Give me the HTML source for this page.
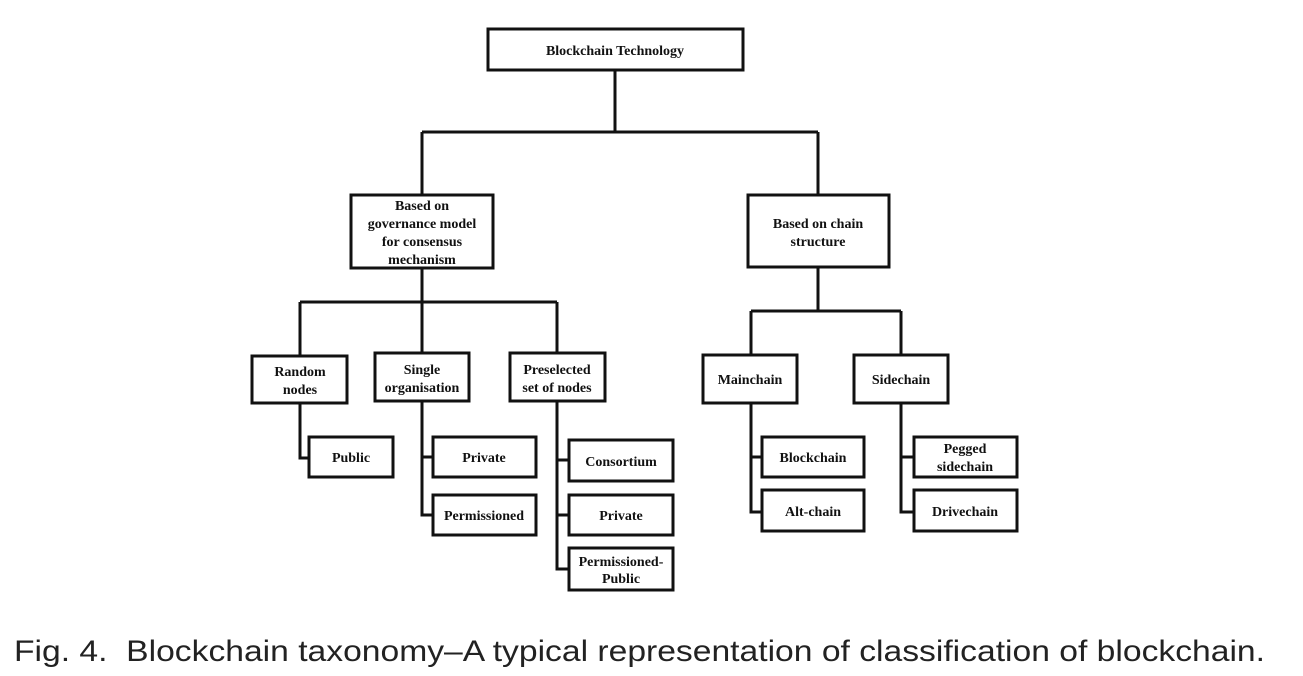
<!DOCTYPE html>
<html><head><meta charset="utf-8"><style>
html,body{margin:0;padding:0;background:#fff;}
svg{display:block;}
.b{font-family:"Liberation Serif",serif;font-weight:bold;font-size:14px;fill:#111;text-anchor:middle;}
</style></head><body>
<svg width="1303" height="676" viewBox="0 0 1303 676" xmlns="http://www.w3.org/2000/svg">
<g fill="none" stroke="#111" stroke-width="3">
<path d="M615 70V132M422 132H818M422 132V195M818 132V195"/>
<path d="M422 268V302M300 302H557M300 302V356M422 302V353M557 302V353"/>
<path d="M818 267V311M751 311H901M751 311V355M901 311V355"/>
<path d="M300 403V458H309"/>
<path d="M422 401V515H433M422 457H433"/>
<path d="M557 401V569H569M557 460H569M557 515H569"/>
<path d="M751 403V512H762M751 457H762"/>
<path d="M901 403V512H914M901 457H914"/>
<rect x="488" y="29" width="255" height="41" fill="#fff"/>
<rect x="351" y="195" width="142" height="73" fill="#fff"/>
<rect x="748" y="195" width="141" height="72" fill="#fff"/>
<rect x="252" y="356" width="95" height="47" fill="#fff"/>
<rect x="375" y="353" width="94" height="48" fill="#fff"/>
<rect x="510" y="353" width="95" height="48" fill="#fff"/>
<rect x="703" y="355" width="94" height="48" fill="#fff"/>
<rect x="854" y="355" width="94" height="48" fill="#fff"/>
<rect x="309" y="437" width="84" height="40" fill="#fff"/>
<rect x="433" y="437" width="103" height="40" fill="#fff"/>
<rect x="433" y="495" width="103" height="40" fill="#fff"/>
<rect x="569" y="440" width="104" height="41" fill="#fff"/>
<rect x="569" y="495" width="104" height="40" fill="#fff"/>
<rect x="569" y="548" width="104" height="42" fill="#fff"/>
<rect x="762" y="437" width="102" height="40" fill="#fff"/>
<rect x="762" y="490" width="102" height="41" fill="#fff"/>
<rect x="914" y="437" width="103" height="40" fill="#fff"/>
<rect x="914" y="490" width="103" height="41" fill="#fff"/>
</g>
<text class="b" x="615" y="55">Blockchain Technology</text>
<text class="b" x="422" y="210">Based on</text>
<text class="b" x="422" y="228">governance model</text>
<text class="b" x="422" y="246">for consensus</text>
<text class="b" x="422" y="264">mechanism</text>
<text class="b" x="818" y="228">Based on chain</text>
<text class="b" x="818" y="246">structure</text>
<text class="b" x="300" y="376">Random</text>
<text class="b" x="300" y="394">nodes</text>
<text class="b" x="422" y="374">Single</text>
<text class="b" x="422" y="392">organisation</text>
<text class="b" x="557" y="374">Preselected</text>
<text class="b" x="557" y="392">set of nodes</text>
<text class="b" x="750" y="384">Mainchain</text>
<text class="b" x="901" y="384">Sidechain</text>
<text class="b" x="351" y="462">Public</text>
<text class="b" x="484" y="462">Private</text>
<text class="b" x="484" y="520">Permissioned</text>
<text class="b" x="621" y="466">Consortium</text>
<text class="b" x="621" y="520">Private</text>
<text class="b" x="621" y="566">Permissioned-</text>
<text class="b" x="621" y="583">Public</text>
<text class="b" x="813" y="462">Blockchain</text>
<text class="b" x="813" y="516">Alt-chain</text>
<text class="b" x="965" y="453">Pegged</text>
<text class="b" x="965" y="471">sidechain</text>
<text class="b" x="965" y="516">Drivechain</text>
<text x="14" y="661" font-family="Liberation Sans, sans-serif" font-size="30" fill="#222" textLength="1251" lengthAdjust="spacingAndGlyphs" xml:space="preserve">Fig. 4.  Blockchain taxonomy–A typical representation of classification of blockchain.</text>
</svg>
</body></html>
